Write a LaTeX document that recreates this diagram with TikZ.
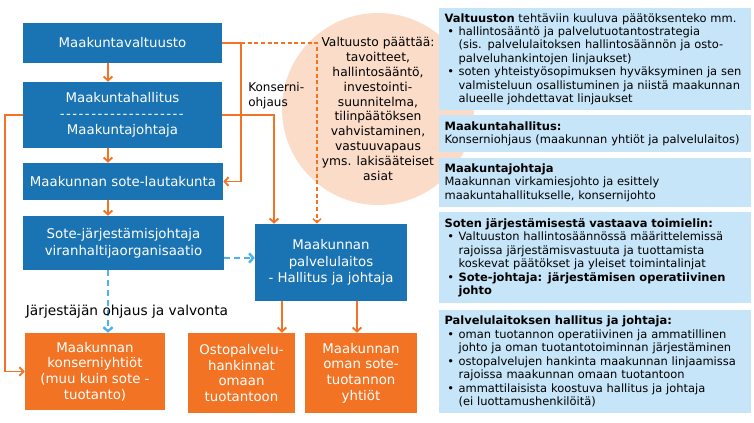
\documentclass[tikz,border=0pt]{standalone}
\usepackage{fontspec}
\setmainfont{DejaVu Sans}
\usepackage{tikz}
\usetikzlibrary{positioning,arrows.meta}
\definecolor{boxblue}{HTML}{1A74B3}
\definecolor{boxorange}{HTML}{F37324}
\definecolor{panelblue}{HTML}{C6E5F8}
\definecolor{circlepink}{HTML}{FBDCC9}
\definecolor{dashblue}{HTML}{4BB2EE}
\newcommand{\bul}{\hspace*{2pt}\makebox[8.5pt][l]{\textbullet}}
\newcommand{\ind}{\hspace*{10.5pt}}
\newcommand{\sepdash}{\hbox to 94pt{\xleaders\hbox{-\kern1pt}\hfill}}

\begin{document}
\begin{tikzpicture}[x=0.75pt,y=-0.75pt,
			lbox/.style={
				fill=boxblue,
				text=white,
				align=center,
				inner sep=0pt,
				font=\fontsize{10}{12}\selectfont
			},
			obox/.style={
				fill=boxorange,
				text=white,
				align=center,
				inner sep=0pt,
				font=\fontsize{10}{11.8}\selectfont
			},
			panel/.style={
				fill=panelblue,
				anchor=north west,
				minimum width=234pt,
				text width=226pt,
				inner xsep=4pt,
				inner ysep=2pt,
				align=left,
				font=\fontsize{8.6}{10.1}\selectfont
			},
			arrow/.style={draw=boxorange,line width=1.4pt,-{Straight Barb[length=3pt,width=6.5pt]}},
			odash/.style={draw=boxorange,line width=1.1pt,dash pattern=on 3pt off 2pt,-{Straight Barb[length=3pt,width=6pt]}},
			bdash/.style={draw=dashblue,line width=1.8pt,dash pattern=on 4.5pt off 3pt,-{Straight Barb[length=3pt,width=7pt]}}
			]
			\useasboundingbox (0,0) rectangle (754,422);
			
			% decision circle behind the right panels
			\node[circle,fill=circlepink,minimum size=144pt,inner sep=0pt,align=center,
			font=\fontsize{9.2}{11.1}\selectfont] (paatos) at (378,109)
			{Valtuusto päättää:\\ tavoitteet,\\ hallintosääntö,\\ investointi-\\ suunnitelma,\\
				tilinpäätöksen\\ vahvistaminen,\\ vastuuvapaus\\ yms. lakisääteiset\\ asiat};
			
			% right hand panels
			\node[panel,minimum height=76.5pt] (p1) at (439,8)
			{{\bfseries Valtuuston} tehtäviin kuuluva päätöksenteko mm.\\
				\bul hallintosääntö ja palvelutuotantostrategia\\
				\ind (sis. palvelulaitoksen hallintosäännön ja osto-\\
				\ind palveluhankintojen linjaukset)\\
				\bul soten yhteistyösopimuksen hyväksyminen ja sen\\
				\ind valmisteluun osallistuminen ja niistä maakunnan\\
				\ind alueelle johdettavat linjaukset};
			\node[panel,minimum height=27.75pt] (p2) at (439,115)
			{{\bfseries Maakuntahallitus:}\\
				Konserniohjaus (maakunnan yhtiöt ja palvelulaitos)};
			\node[panel,minimum height=36.75pt] (p3) at (439,158)
			{{\bfseries Maakuntajohtaja}\\
				Maakunnan virkamiesjohto ja esittely\\
				maakuntahallitukselle, konsernijohto};
			\node[panel,minimum height=68.25pt] (p4) at (439,212)
			{{\bfseries Soten järjestämisestä vastaava toimielin:}\\
				\bul Valtuuston hallintosäännössä määrittelemissä\\
				\ind rajoissa järjestämisvastuuta ja tuottamista\\
				\ind koskevat päätökset ja yleiset toimintalinjat\\
				\bul {\bfseries Sote-johtaja: järjestämisen operatiivinen}\\
				\ind {\bfseries johto}};
			\node[panel,minimum height=77.25pt] (p5) at (439,310)
			{{\bfseries Palvelulaitoksen hallitus ja johtaja:}\\
				\bul oman tuotannon operatiivinen ja ammatillinen\\
				\ind johto ja oman tuotantotoiminnan järjestäminen\\
				\bul ostopalvelujen hankinta maakunnan linjaamissa\\
				\ind rajoissa maakunnan omaan tuotantoon\\
				\bul ammattilaisista koostuva hallitus ja johtaja\\
				\ind (ei luottamushenkilöitä)};
			
			% organisation boxes
			\node[lbox,minimum width=149.25pt,minimum height=30pt] (valtuusto) at (122.5,43)
			{Maakuntavaltuusto};
			\node[lbox,minimum width=149.25pt,minimum height=49.5pt] (hallitus) at (122.5,115)
			{Maakuntahallitus\\ \sepdash\\ Maakuntajohtaja};
			\node[lbox,minimum width=150pt,minimum height=27.75pt] (lautakunta) at (123,181.5)
			{Maakunnan sote-lautakunta};
			\node[lbox,minimum width=150.75pt,minimum height=40.5pt,font=\fontsize{10}{12.75}\selectfont] (jarjesto) at (123.5,243)
			{Sote-järjestämisjohtaja\\ viranhaltijaorganisaatio};
			\node[lbox,minimum width=114pt,minimum height=57.75pt,font=\fontsize{10}{12.4}\selectfont] (palvelulaitos) at (331,262.5)
			{Maakunnan\\ palvelulaitos\\ - Hallitus ja johtaja};
			
			\node[obox,minimum width=105pt,minimum height=57.75pt] (konserni) at (95,371.5)
			{Maakunnan\\ konserniyhtiöt\\ (muu kuin sote -\\ tuotanto)};
			\node[obox,minimum width=80.25pt,minimum height=60pt] (osto) at (241.5,373)
			{Ostopalvelu-\\ hankinnat\\ omaan\\ tuotantoon};
			\node[obox,minimum width=84pt,minimum height=60pt] (yhtiot) at (361,373)
			{Maakunnan\\ oman sote-\\ tuotannon\\ yhtiöt};
			
			% line positions
			\coordinate (spine) at (108,0);
			\coordinate (kx) at (241,0);
			\coordinate (hx) at (274,0);
			\coordinate (dx) at (317,0);
			\coordinate (lx) at (5,0);
			\coordinate (ox) at (282,0);
			\coordinate (yx) at (357,0);
			\coordinate (by) at (0,258);
			
			\draw[arrow] (valtuusto.south -| spine) -- (hallitus.north -| spine);
			\draw[arrow] (hallitus.south -| spine) -- (lautakunta.north -| spine);
			\draw[arrow] (lautakunta.south -| spine) -- (jarjesto.north -| spine);
			\draw[arrow] (valtuusto.east) -- (valtuusto.east -| kx) |- (lautakunta.east);
			\draw[odash] (valtuusto.east -| kx) -| (palvelulaitos.north -| dx);
			\draw[arrow] (hallitus.east) -| (palvelulaitos.north -| hx);
			\draw[arrow] (hallitus.west) -- (hallitus.west -| lx) |- (konserni.west);
			\draw[bdash] (jarjesto.east |- by) -- (palvelulaitos.west |- by);
			\draw[bdash] (jarjesto.south -| spine) -- (konserni.north -| spine);
			\draw[arrow] (palvelulaitos.south -| ox) -- (osto.north -| ox);
			\draw[arrow] (palvelulaitos.south -| yx) -- (yhtiot.north -| yx);
			
			\node[anchor=west,align=left,inner sep=0pt,font=\fontsize{9}{11.25}\selectfont] (konsernilbl) at (248,95.5)
			{Konserni-\\ ohjaus};
			\node[inner sep=0pt,font=\fontsize{10.3}{12}\selectfont] (valvontalbl) at (127,312)
			{Järjestäjän ohjaus ja valvonta};
			
		\end{tikzpicture}
\end{document}
